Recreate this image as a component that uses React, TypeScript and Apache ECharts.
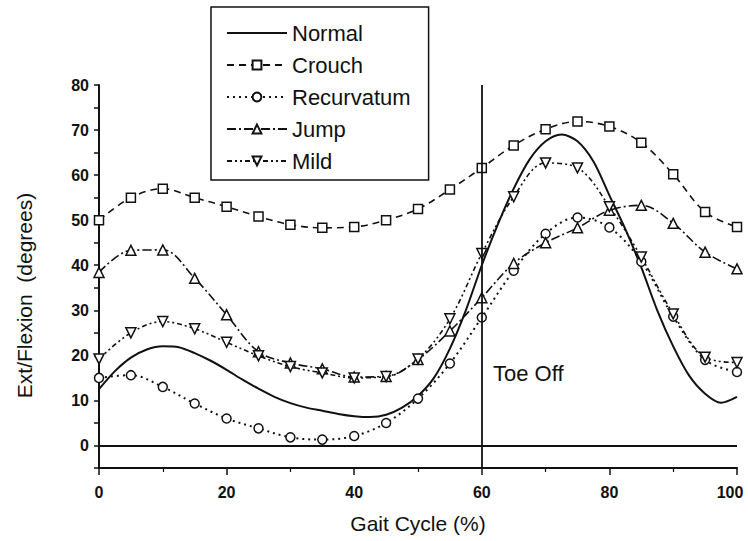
import React, { useEffect, useRef } from "react";
import * as echarts from "echarts";

const gaitPct = [0, 5, 10, 15, 20, 25, 30, 35, 40, 45, 50, 55, 60, 65, 70, 75, 80, 85, 90, 95, 100];
const crouch = [50, 55, 57, 55, 53, 50.8, 49, 48.3, 48.5, 50, 52.5, 56.8, 61.6, 66.6, 70.2, 71.9, 70.8, 67.2, 60.2, 51.8, 48.5];
const recurvatum = [15, 15.6, 13, 9.3, 6, 3.8, 1.8, 1.3, 2.1, 5, 10.4, 18.2, 28.4, 38.8, 47, 50.6, 48.4, 40.8, 28.6, 19, 16.3];
const jump = [38.4, 43.3, 43.4, 37.1, 29, 20.8, 18.3, 17, 15.2, 15.3, 19.1, 25.4, 32.8, 40.4, 45, 48.3, 52.2, 53.3, 49.3, 42.9, 39.2];
const mild = [19.2, 25, 27.5, 25.9, 22.9, 19.9, 17.5, 16.1, 15, 15.3, 19.2, 28.1, 42.6, 55.2, 62.7, 61.6, 53, 41.8, 29.2, 19.6, 18.4];

const normalPct = [0, 2.5, 5, 7.5, 10, 12.5, 15, 17.5, 20, 22.5, 25, 27.5, 30, 32.5, 35, 37.5, 40, 42.5, 45, 47.5, 50, 52.5, 55, 57.5, 60, 62.5, 65, 67.5, 70, 72.5, 75, 77.5, 80, 82.5, 85, 87.5, 90, 92.5, 95, 97.5, 100];
const normal = [12.5, 16.5, 19.5, 21.3, 22, 21.8, 20.5, 18.8, 16.8, 14.6, 12.6, 10.8, 9.4, 8.4, 7.7, 7, 6.5, 6.3, 6.8, 8.4, 11, 15, 21.5, 30, 40, 49, 57, 63.5, 67.5, 69, 67.5, 63, 55.5, 48, 39.5, 30, 22, 15.5, 11.5, 9.5, 10.8];

const seriesNames = ["Normal", "Crouch", "Recurvatum", "Jump", "Mild"];
const xTitle = "Gait Cycle (%)";
const yTitle = "Ext/Flexion  (degrees)";
const toeOffLabel = "Toe Off";
const toeOffPct = 60;

const FONT = "'Liberation Sans', Arial, Helvetica, sans-serif";
const INK = "#111";

function pairs(xs: number[], ys: number[]) {
  return xs.map((x, i) => [x, ys[i]]);
}

export default function App() {
  const ref = useRef<HTMLDivElement>(null);
  useEffect(() => {
    if (!ref.current) return;
    const chart = echarts.init(ref.current, null, { renderer: "svg" });
    const markerStyle = { color: "#fff", borderColor: INK, borderWidth: 1.5 };
    chart.setOption({
      animation: false,
      backgroundColor: "#fff",
      textStyle: { fontFamily: FONT, color: INK },
      grid: { left: 99, right: 11, top: 85, bottom: 73 },
      legend: {
        orient: "vertical",
        left: 211,
        top: 7,
        data: [
          { name: "Normal", itemStyle: { opacity: 0 } },
          "Crouch",
          "Recurvatum",
          "Jump",
          "Mild",
        ],
        selectedMode: false,
        itemWidth: 60,
        itemHeight: 11,
        itemGap: 10,
        padding: [15, 18, 8, 15],
        borderColor: INK,
        borderWidth: 1.5,
        backgroundColor: "#fff",
        textStyle: { fontFamily: FONT, fontSize: 22, lineHeight: 22, color: INK },
      },
      xAxis: {
        type: "value",
        min: 0,
        max: 100,
        interval: 20,
        name: xTitle,
        nameLocation: "middle",
        nameGap: 45,
        nameTextStyle: { fontFamily: FONT, fontSize: 21, color: INK },
        axisLine: { onZero: false, lineStyle: { color: INK, width: 2 } },
        axisTick: { show: true, inside: false, length: 7, lineStyle: { color: INK, width: 1.5 } },
        minorTick: { show: true, splitNumber: 2, length: 4, lineStyle: { color: INK, width: 1.2 } },
        axisLabel: {
          margin: 16,
          fontFamily: FONT,
          fontSize: 16,
          fontWeight: "bold",
          color: INK,
          formatter: (v: number) => (v === 100 ? "{m|100}" : String(v)),
          rich: { m: { fontFamily: FONT, fontSize: 16, fontWeight: "bold", color: INK, padding: [0, 14, 0, 0] } },
        },
        splitLine: { show: false },
      },
      yAxis: {
        type: "value",
        min: -5,
        max: 80,
        interval: 5,
        name: yTitle,
        nameLocation: "middle",
        nameRotate: 90,
        nameGap: 64,
        nameTextStyle: { fontFamily: FONT, fontSize: 21, color: INK, padding: [0, 38, 0, 0] },
        axisLine: { show: true, onZero: false, lineStyle: { color: INK, width: 2 } },
        axisTick: { show: true, inside: false, length: 5, lineStyle: { color: INK, width: 1.5 } },
        axisLabel: {
          margin: 10,
          fontFamily: FONT,
          fontSize: 16,
          fontWeight: "bold",
          color: INK,
          formatter: (v: number) => (v >= 0 && v % 10 === 0 ? String(v) : ""),
        },
        splitLine: { show: false },
      },
      graphic: [
        {
          type: "text",
          left: 493,
          top: 362,
          style: { text: toeOffLabel, font: `22px ${FONT}`, fill: INK },
        },
      ],
      series: [
        {
          name: "Normal",
          type: "line",
          data: pairs(normalPct, normal),
          smooth: 0.3,
          symbol: "none",
          lineStyle: { color: INK, width: 2, type: "solid" },
          itemStyle: { color: INK },
          z: 3,
          markLine: {
            silent: true,
            symbol: "none",
            label: { show: false },
            lineStyle: { color: INK, width: 1.8, type: "solid" },
            data: [{ yAxis: 0 }, { xAxis: toeOffPct }],
          },
        },
        {
          name: "Crouch",
          type: "line",
          data: pairs(gaitPct, crouch),
          smooth: 0.35,
          symbol: "rect",
          symbolSize: 9,
          showAllSymbol: true,
          lineStyle: { color: INK, width: 1.6, type: [7, 5] },
          itemStyle: markerStyle,
          z: 4,
        },
        {
          name: "Recurvatum",
          type: "line",
          data: pairs(gaitPct, recurvatum),
          smooth: 0.35,
          symbol: "circle",
          symbolSize: 9,
          showAllSymbol: true,
          lineStyle: { color: INK, width: 2, type: [2, 4] },
          itemStyle: markerStyle,
          z: 4,
        },
        {
          name: "Jump",
          type: "line",
          data: pairs(gaitPct, jump),
          smooth: 0.35,
          symbol: "triangle",
          symbolSize: 10,
          showAllSymbol: true,
          lineStyle: { color: INK, width: 1.6, type: [9, 3, 2, 3] },
          itemStyle: markerStyle,
          z: 4,
        },
        {
          name: "Mild",
          type: "line",
          data: pairs(gaitPct, mild),
          smooth: 0.35,
          symbol: "triangle",
          symbolRotate: 180,
          symbolSize: 10,
          showAllSymbol: true,
          lineStyle: { color: INK, width: 1.6, type: [5, 3, 2, 3, 2, 3] },
          itemStyle: markerStyle,
          z: 4,
        },
      ],
    });
    return () => chart.dispose();
  }, []);
  return (
    <div
      ref={ref}
      style={{ position: "fixed", left: 0, top: 0, width: 748, height: 541 }}
    />
  );
}
